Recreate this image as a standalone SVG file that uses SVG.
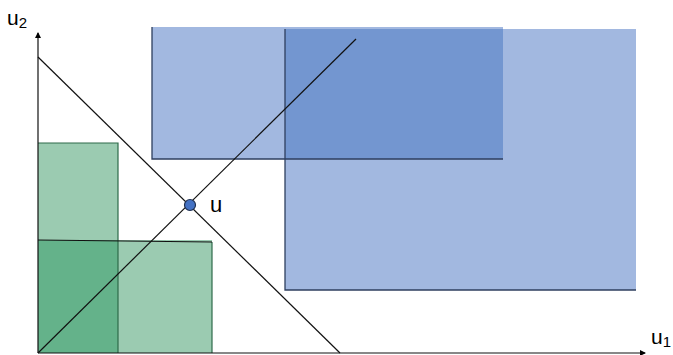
<svg xmlns="http://www.w3.org/2000/svg" width="673" height="355" viewBox="0 0 673 355">
  <defs>
    <marker id="arrow" viewBox="0 0 6 6" refX="5" refY="3" markerWidth="6" markerHeight="6" orient="auto" markerUnits="userSpaceOnUse">
      <path d="M0,0 L6,3 L0,6 z" fill="#000"/>
    </marker>
    <style>
      .lbl { font-family: "Liberation Sans", Arial, sans-serif; fill: #000; }
      .blue { fill: #A2B8E0; }
      .blue2 { fill: #7396D0; }
      .green { fill: #9BCBB1; }
      .green2 { fill: #64B28A; }
      .edgeB { stroke: #2F3F5F; stroke-width: 1.3; fill: none; }
      .edgeG { stroke: #2E6B4A; stroke-width: 1.2; fill: none; }
      .line { stroke: #111; stroke-width: 1.2; fill: none; }
    </style>
  </defs>

  <!-- blue regions -->
  <g id="blue-region-left">
    <rect class="blue" x="152" y="27" width="351" height="132"/>
  </g>
  <g id="blue-region-right">
    <rect class="blue" x="285" y="29" width="351" height="261"/>
    <rect class="blue2" x="285" y="29" width="218" height="130"/>
    <path class="edgeB" d="M152,27 V159 H503"/>
    <path class="edgeB" d="M285,29 V290 H636"/>
  </g>

  <!-- green regions -->
  <g id="green-region-tall">
    <rect class="green" x="38" y="143" width="80" height="210"/>
  </g>
  <g id="green-region-wide">
    <rect class="green" x="38" y="240" width="174" height="113"/>
    <rect class="green2" x="38" y="240" width="80" height="113"/>
    <path class="edgeG" d="M38,143 H118 V353"/>
    <path class="edgeG" d="M212,353 V242"/>
    <path class="line" d="M38,240 L212,242"/>
  </g>

  <!-- connectors: axes and lines -->
  <g id="connectors">
    <line class="line" x1="38" y1="353" x2="38" y2="33" marker-end="url(#arrow)" stroke="#333"/>
    <line class="line" x1="38" y1="353" x2="645" y2="353" marker-end="url(#arrow)" stroke="#888"/>
    <line class="line" x1="38" y1="57" x2="340" y2="353"/>
    <line class="line" x1="38" y1="353" x2="356" y2="39" stroke="#1F2F4F"/>
  </g>

  <!-- point u -->
  <g id="point-u">
    <circle cx="190" cy="205" r="5.5" fill="#4472C4" stroke="#1F2F4F" stroke-width="1.2"/>
    <text class="lbl" x="210" y="212" font-size="22">u</text>
  </g>

  <!-- axis labels -->
  <g id="label-u2">
    <text class="lbl" x="7" y="25" font-size="21">u<tspan font-size="15" dy="3">2</tspan></text>
  </g>
  <g id="label-u1">
    <text class="lbl" x="651" y="344" font-size="21">u<tspan font-size="15" dy="3">1</tspan></text>
  </g>
</svg>
